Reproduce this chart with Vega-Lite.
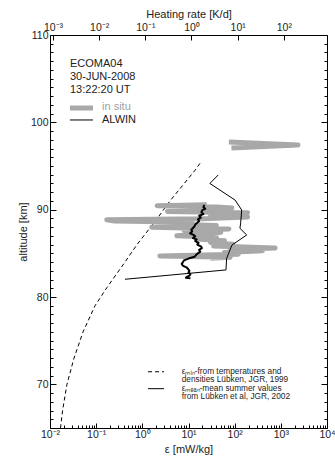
{
  "$schema": "https://vega.github.io/schema/vega-lite/v6.json",
  "autosize": "none",
  "width": 277,
  "height": 393,
  "padding": {"left": 50, "top": 35, "right": 8, "bottom": 35},
  "background": "white",
  "config": {
    "font": "Liberation Sans",
    "view": {"stroke": null},
    "axis": {"domainColor": "#000", "tickColor": "#000", "labelColor": "#222", "titleColor": "#222", "labelFontSize": 10.5, "titleFontSize": 11, "titleFontWeight": "normal", "grid": false, "labelFont": "Liberation Sans", "titleFont": "Liberation Sans", "domainWidth": 1, "tickWidth": 1, "labelOverlap": false, "labelFlush": false}
  },
  "datasets": {
    "one": [{"k": 1}],
    "epsmin": [
      {"alt": 65.0, "eps": 0.0169}, {"alt": 67.0, "eps": 0.0187}, {"alt": 70.0, "eps": 0.0233},
      {"alt": 73.0, "eps": 0.0331}, {"alt": 76.0, "eps": 0.0519}, {"alt": 79.0, "eps": 0.0944},
      {"alt": 81.1, "eps": 0.172}, {"alt": 84.0, "eps": 0.421}, {"alt": 86.0, "eps": 0.766},
      {"alt": 88.8, "eps": 1.98}, {"alt": 91.0, "eps": 3.97}, {"alt": 94.5, "eps": 13.8},
      {"alt": 95.3, "eps": 17.7}
    ],
    "epsmean": [
      {"alt": 93.97, "eps": 44}, {"alt": 93.0, "eps": 29}, {"alt": 91.1, "eps": 102},
      {"alt": 89.96, "eps": 142}, {"alt": 88.5, "eps": 135}, {"alt": 87.87, "eps": 130}, {"alt": 87.1, "eps": 182},
      {"alt": 85.95, "eps": 87.5}, {"alt": 84.43, "eps": 67}, {"alt": 83.1, "eps": 64.9},
      {"alt": 82.03, "eps": 0.42}
    ],
    "insitu": [
      {"seg": "b", "alt": 97.75, "eps": 75}, {"seg": "b", "alt": 97.4, "eps": 2350}, {"seg": "b", "alt": 97.05, "eps": 85},
      {"seg": "a", "alt": 90.55, "eps": 25}, {"seg": "a", "alt": 90.45, "eps": 2.1}, {"seg": "a", "alt": 90.3, "eps": 40},
      {"seg": "a", "alt": 90.2, "eps": 87}, {"seg": "a", "alt": 90.0, "eps": 25}, {"seg": "a", "alt": 89.8, "eps": 3.5},
      {"seg": "a", "alt": 89.65, "eps": 190}, {"seg": "a", "alt": 89.4, "eps": 30}, {"seg": "a", "alt": 89.15, "eps": 190},
      {"seg": "a", "alt": 88.95, "eps": 20}, {"seg": "a", "alt": 88.85, "eps": 0.17}, {"seg": "a", "alt": 88.7, "eps": 0.25},
      {"seg": "a", "alt": 88.55, "eps": 12}, {"seg": "a", "alt": 88.35, "eps": 3}, {"seg": "a", "alt": 88.2, "eps": 40},
      {"seg": "a", "alt": 88.0, "eps": 1.6}, {"seg": "a", "alt": 87.8, "eps": 75}, {"seg": "a", "alt": 87.6, "eps": 8},
      {"seg": "a", "alt": 87.4, "eps": 50}, {"seg": "a", "alt": 87.2, "eps": 20}, {"seg": "a", "alt": 87.0, "eps": 5.6},
      {"seg": "a", "alt": 86.85, "eps": 40}, {"seg": "a", "alt": 86.65, "eps": 15}, {"seg": "a", "alt": 86.45, "eps": 60},
      {"seg": "a", "alt": 86.25, "eps": 30}, {"seg": "a", "alt": 86.05, "eps": 92}, {"seg": "a", "alt": 85.85, "eps": 35},
      {"seg": "a", "alt": 85.6, "eps": 750}, {"seg": "a", "alt": 85.45, "eps": 80}, {"seg": "a", "alt": 85.3, "eps": 400},
      {"seg": "a", "alt": 85.1, "eps": 60}, {"seg": "a", "alt": 84.9, "eps": 120}, {"seg": "a", "alt": 84.7, "eps": 2.4},
      {"seg": "a", "alt": 84.55, "eps": 80}, {"seg": "a", "alt": 84.45, "eps": 30}
    ],
    "alwin": [
      {"alt": 90.55, "eps": 22}, {"alt": 90.3, "eps": 21}, {"alt": 90.1, "eps": 23}, {"alt": 89.95, "eps": 20},
      {"alt": 89.7, "eps": 19}, {"alt": 89.5, "eps": 21}, {"alt": 89.3, "eps": 17}, {"alt": 89.1, "eps": 18.5},
      {"alt": 88.9, "eps": 16}, {"alt": 88.7, "eps": 17}, {"alt": 88.5, "eps": 15.5}, {"alt": 88.3, "eps": 14},
      {"alt": 88.1, "eps": 13.5}, {"alt": 87.9, "eps": 12.5}, {"alt": 87.7, "eps": 11.5}, {"alt": 87.5, "eps": 12},
      {"alt": 87.3, "eps": 10.8}, {"alt": 87.15, "eps": 12.5}, {"alt": 86.95, "eps": 14}, {"alt": 86.75, "eps": 12.5},
      {"alt": 86.6, "eps": 15}, {"alt": 86.4, "eps": 14}, {"alt": 86.2, "eps": 16.5}, {"alt": 86.0, "eps": 15.5},
      {"alt": 85.8, "eps": 18.5}, {"alt": 85.6, "eps": 19.5}, {"alt": 85.4, "eps": 17}, {"alt": 85.2, "eps": 18},
      {"alt": 85.0, "eps": 16}, {"alt": 84.8, "eps": 14.5}, {"alt": 84.6, "eps": 13.5}, {"alt": 84.4, "eps": 10},
      {"alt": 84.2, "eps": 8}, {"alt": 84.0, "eps": 7.6}, {"alt": 83.8, "eps": 7.1}, {"alt": 83.6, "eps": 7.5},
      {"alt": 83.4, "eps": 9}, {"alt": 83.2, "eps": 9.8}, {"alt": 83.0, "eps": 10.5}, {"alt": 82.8, "eps": 10},
      {"alt": 82.6, "eps": 11}, {"alt": 82.45, "eps": 10.5}, {"alt": 82.3, "eps": 9.2}, {"alt": 82.2, "eps": 8.8},
      {"alt": 82.15, "eps": 11}
    ]
  },
  "layer": [
    {"data": {"name": "epsmin"}, "mark": {"type": "line", "color": "#000", "strokeWidth": 1, "strokeDash": [4, 3]},
     "encoding": {
      "x": {"field": "eps", "type": "quantitative",
        "scale": {"type": "log", "domain": [0.01, 10000], "nice": false},
        "axis": {"orient": "bottom", "title": "ε  [mW/kg]",
          "values": [0.01,0.02,0.03,0.04,0.05,0.06,0.07,0.08,0.09,0.1,0.2,0.3,0.4,0.5,0.6,0.7,0.8,0.9,1,2,3,4,5,6,7,8,9,10,20,30,40,50,60,70,80,90,100,200,300,400,500,600,700,800,900,1000,2000,3000,4000,5000,6000,7000,8000,9000,10000],
          "labelExpr": "abs(log(datum.value)/LN10 - round(log(datum.value)/LN10)) < 0.001 ? '10' + (round(log(datum.value)/LN10) < 0 ? '⁻' : '') + substring('⁰¹²³⁴⁵⁶⁷⁸⁹', abs(round(log(datum.value)/LN10)), abs(round(log(datum.value)/LN10)) + 1) : ''",
          "tickSize": {"condition": {"test": "abs(log(datum.value)/LN10 - round(log(datum.value)/LN10)) < 0.001", "value": -5}, "value": -3},
          "labelPadding": 6, "titlePadding": 2}},
      "y": {"field": "alt", "type": "quantitative",
        "scale": {"domain": [65, 110], "nice": false, "zero": false},
        "axis": {"orient": "left", "title": "altitude [km]",
          "values": [65,66,67,68,69,70,71,72,73,74,75,76,77,78,79,80,81,82,83,84,85,86,87,88,89,90,91,92,93,94,95,96,97,98,99,100,101,102,103,104,105,106,107,108,109,110],
          "labelExpr": "datum.value % 10 === 0 ? datum.label : ''",
          "tickSize": {"condition": {"test": "datum.value % 10 === 0", "value": -6}, "value": -3},
          "labelPadding": 8, "titlePadding": 2}},
      "order": {"field": "alt", "type": "quantitative", "sort": "descending"}}},
    {"data": {"name": "one"}, "mark": {"type": "point", "opacity": 0},
     "encoding": {
      "x": {"datum": 1, "type": "quantitative",
        "axis": {"orient": "top", "title": "Heating rate [K/d]",
          "values": [0.011614, 0.11614, 1.1614, 11.614, 116.14, 1161.4],
          "labelExpr": "'10' + (round(log(datum.value*0.0861)/LN10) < 0 ? '⁻' : '') + substring('⁰¹²³⁴⁵⁶⁷⁸⁹', abs(round(log(datum.value*0.0861)/LN10)), abs(round(log(datum.value*0.0861)/LN10)) + 1)",
          "tickSize": -5, "labelPadding": 8, "titlePadding": 3}},
      "y": {"datum": 80, "type": "quantitative",
        "axis": {"orient": "right", "title": null, "labels": false,
          "values": [65,66,67,68,69,70,71,72,73,74,75,76,77,78,79,80,81,82,83,84,85,86,87,88,89,90,91,92,93,94,95,96,97,98,99,100,101,102,103,104,105,106,107,108,109,110],
          "tickSize": {"condition": {"test": "datum.value % 10 === 0", "value": -6}, "value": -3}}}}},
    {"data": {"name": "insitu"}, "mark": {"type": "line", "color": "#a8a8a8", "strokeWidth": 5, "strokeJoin": "round"},
     "encoding": {"x": {"field": "eps", "type": "quantitative", "axis": null}, "y": {"field": "alt", "type": "quantitative", "axis": null},
       "detail": {"field": "seg"}, "order": {"field": "alt", "type": "quantitative", "sort": "descending"}}},
    {"data": {"name": "epsmean"}, "mark": {"type": "line", "color": "#000", "strokeWidth": 1},
     "encoding": {"x": {"field": "eps", "type": "quantitative", "axis": null}, "y": {"field": "alt", "type": "quantitative", "axis": null},
       "order": {"field": "alt", "type": "quantitative", "sort": "descending"}}},
    {"data": {"name": "alwin"}, "mark": {"type": "line", "color": "#000", "strokeWidth": 2, "strokeJoin": "round"},
     "encoding": {"x": {"field": "eps", "type": "quantitative", "axis": null}, "y": {"field": "alt", "type": "quantitative", "axis": null},
       "order": {"field": "alt", "type": "quantitative", "sort": "descending"}}},
    {"data": {"name": "one"}, "mark": {"type": "text", "align": "left", "baseline": "top", "fontSize": 11, "lineHeight": 13, "color": "#222"},
     "encoding": {"x": {"datum": 0.0271, "type": "quantitative", "axis": null}, "y": {"datum": 107.4, "type": "quantitative", "axis": null},
       "text": {"value": ["ECOMA04", "30-JUN-2008", "13:22:20 UT"]}}},
    {"data": {"name": "one"}, "mark": {"type": "rule", "color": "#a8a8a8", "strokeWidth": 5},
     "encoding": {"x": {"datum": 0.0271, "type": "quantitative", "axis": null}, "x2": {"datum": 0.0853}, "y": {"datum": 101.64, "type": "quantitative", "axis": null}}},
    {"data": {"name": "one"}, "mark": {"type": "rule", "color": "#000", "strokeWidth": 1},
     "encoding": {"x": {"datum": 0.0271, "type": "quantitative", "axis": null}, "x2": {"datum": 0.0853}, "y": {"datum": 100.27, "type": "quantitative", "axis": null}}},
    {"data": {"name": "one"}, "mark": {"type": "text", "align": "left", "baseline": "middle", "fontSize": 11, "color": "#a0a0a0"},
     "encoding": {"x": {"datum": 0.134, "type": "quantitative", "axis": null}, "y": {"datum": 101.7, "type": "quantitative", "axis": null}, "text": {"value": "in situ"}}},
    {"data": {"name": "one"}, "mark": {"type": "text", "align": "left", "baseline": "middle", "fontSize": 11, "color": "#222"},
     "encoding": {"x": {"datum": 0.134, "type": "quantitative", "axis": null}, "y": {"datum": 100.27, "type": "quantitative", "axis": null}, "text": {"value": "ALWIN"}}},
    {"data": {"name": "one"}, "mark": {"type": "rule", "color": "#000", "strokeWidth": 1, "strokeDash": [4, 3]},
     "encoding": {"x": {"datum": 1.33, "type": "quantitative", "axis": null}, "x2": {"datum": 2.95}, "y": {"datum": 71.44, "type": "quantitative", "axis": null}}},
    {"data": {"name": "one"}, "mark": {"type": "rule", "color": "#000", "strokeWidth": 1},
     "encoding": {"x": {"datum": 1.33, "type": "quantitative", "axis": null}, "x2": {"datum": 2.95}, "y": {"datum": 69.5, "type": "quantitative", "axis": null}}},
    {"data": {"name": "one"}, "mark": {"type": "text", "align": "left", "baseline": "middle", "fontSize": 8.3, "lineHeight": 8.5, "color": "#222"},
     "encoding": {"x": {"datum": 7.12, "type": "quantitative", "axis": null}, "y": {"datum": 71.44, "type": "quantitative", "axis": null},
       "text": {"value": ["εₘᵢₙ-from temperatures and", "densities Lübken, JGR, 1999", "εₘₑₐₙ-mean summer values", "from Lübken et al, JGR, 2002"]}}}
  ],
  "resolve": {"axis": {"x": "independent", "y": "independent"}}
}
